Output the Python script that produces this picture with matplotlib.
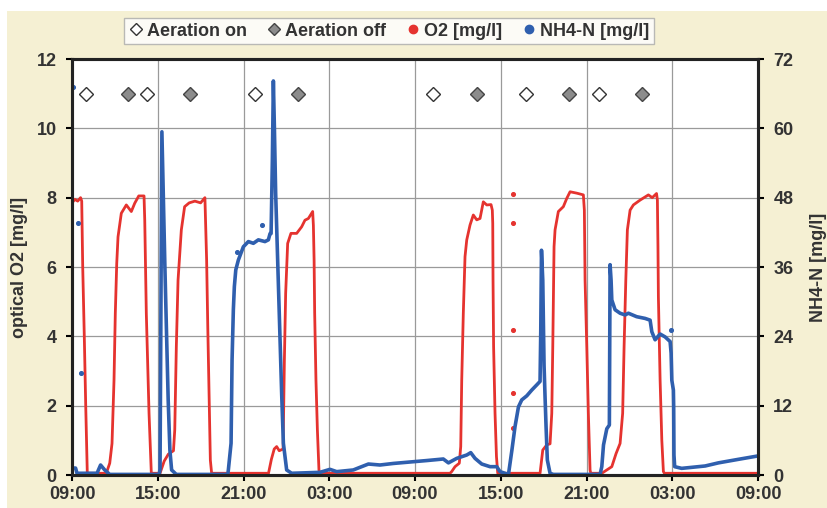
"""
Dissolved oxygen and ammonium readings over two days of intermittent
aeration, with the aeration switch times marked along the top.
"""
import matplotlib
matplotlib.use("Agg")

import matplotlib.pyplot as plt
from matplotlib.lines import Line2D
from matplotlib.patches import Rectangle

plt.rcParams['font.family'] = ['Liberation Sans', 'DejaVu Sans']
plt.rcParams['font.weight'] = 'bold'
plt.rcParams['axes.labelweight'] = 'bold'

# time axis: hours after 09:00 of the first day
HOUR_TICKS = [0, 6, 12, 18, 24, 30, 36, 42, 48]
HOUR_LABELS = ['09:00', '15:00', '21:00', '03:00', '09:00',
               '15:00', '21:00', '03:00', '09:00']

# aeration switch times (hours), drawn at O2 = 11
AERATION_ON = [0.98, 5.23, 12.83, 25.28, 31.77, 36.86]
AERATION_OFF = [3.92, 8.24, 15.84, 28.32, 34.80, 39.87]
MARKER_LEVEL = 11

# optical O2 [mg/l]
O2_TIME = [
    0.0, 0.2, 0.4, 0.6, 0.68, 0.75, 0.86, 0.96, 1.07, 2.40,
    2.64, 2.80, 2.94, 3.03, 3.13, 3.22, 3.45, 3.80, 4.15, 4.39,
    4.67, 5.04, 5.09, 5.20, 5.39, 5.55, 6.16, 6.45, 6.74, 7.10,
    7.19, 7.30, 7.42, 7.65, 7.88, 8.20, 8.60, 9.00, 9.30, 9.42,
    9.50, 9.59, 9.68, 9.77, 13.75, 13.95, 14.15, 14.32, 14.50, 14.77,
    14.86, 14.95, 15.09, 15.32, 15.72, 16.07, 16.30, 16.54, 16.84, 16.89,
    16.94, 16.98, 17.07, 17.17, 17.28, 17.35, 26.45, 26.57, 26.80, 27.10,
    27.20, 27.27, 27.38, 27.50, 27.62, 27.85, 28.08, 28.32, 28.55, 28.78,
    29.02, 29.32, 29.41, 29.44, 29.46, 29.50, 29.60, 29.70, 29.79, 32.75,
    32.94, 33.22, 33.45, 33.57, 33.64, 33.73, 33.80, 34.03, 34.38, 34.62,
    34.85, 35.32, 35.78, 35.85, 35.90, 36.02, 36.13, 36.25, 36.30, 37.07,
    37.77, 38.07, 38.35, 38.53, 38.63, 38.75, 38.86, 39.05, 39.28, 39.75,
    40.33, 40.60, 40.90, 40.96, 41.00, 41.03, 41.15, 41.27, 41.38, 41.45,
    48.0]
O2_VALUE = [
    7.85, 7.95, 7.90, 8.00, 7.90, 6.00, 4.00, 2.00, 0.05, 0.05,
    0.34, 0.91, 2.74, 4.66, 6.10, 6.87, 7.55, 7.79, 7.60, 7.84,
    8.05, 8.05, 7.35, 4.66, 1.78, 0.05, 0.05, 0.40, 0.60, 0.70,
    1.30, 3.70, 5.62, 7.07, 7.74, 7.85, 7.90, 7.85, 8.00, 6.20,
    4.28, 2.36, 0.43, 0.05, 0.05, 0.45, 0.75, 0.82, 0.70, 0.75,
    3.30, 5.24, 6.68, 6.97, 6.97, 7.16, 7.35, 7.40, 7.60, 7.20,
    6.20, 4.66, 2.74, 1.30, 0.14, 0.05, 0.05, 0.10, 0.24, 0.34,
    0.82, 2.74, 4.66, 6.30, 6.78, 7.21, 7.50, 7.36, 7.40, 7.88,
    7.79, 7.80, 7.64, 7.26, 5.62, 3.70, 1.78, 0.53, 0.05, 0.05,
    0.72, 0.87, 0.90, 1.78, 3.70, 6.59, 7.07, 7.60, 7.74, 7.98,
    8.17, 8.13, 8.08, 7.64, 5.62, 3.70, 1.78, 0.14, 0.05, 0.05,
    0.24, 0.62, 0.91, 1.78, 3.70, 5.62, 7.07, 7.64, 7.79, 7.93,
    8.08, 8.00, 8.12, 7.93, 6.59, 5.14, 2.74, 1.00, 0.10, 0.05,
    0.05]

# NH4-N [mg/l]
NH4_TIME = [
    0.0, 0.25, 0.35, 1.75, 2.00, 2.29, 2.64, 6.10, 6.16, 6.29,
    6.50, 6.62, 6.73, 6.85, 6.97, 7.30, 10.90, 10.94, 11.13, 11.20,
    11.29, 11.36, 11.46, 11.64, 11.99, 12.34, 12.69, 13.04, 13.50, 13.74,
    13.86, 13.93, 14.02, 14.09, 14.16, 14.25, 14.39, 14.53, 14.67, 14.79,
    15.02, 15.37, 17.35, 18.05, 18.52, 19.68, 20.15, 20.74, 21.55, 22.49,
    23.65, 24.82, 25.98, 26.34, 26.92, 27.62, 27.90, 28.20, 28.67, 29.25,
    29.72, 29.95, 30.54, 30.78, 31.00, 31.24, 31.47, 31.82, 32.17, 32.52,
    32.75, 32.80, 32.85, 32.94, 33.03, 33.10, 33.17, 33.26, 33.45, 33.68,
    36.95, 37.07, 37.19, 37.42, 37.60, 37.65, 37.72, 37.77, 38.00, 38.35,
    38.70, 38.93, 39.51, 40.10, 40.45, 40.57, 40.80, 41.15, 41.50, 41.85,
    41.92, 41.97, 42.08, 42.10, 42.12, 42.17, 42.66, 44.30, 45.23, 46.60,
    48.0]
NH4_VALUE = [
    1.2, 1.2, 0.3, 0.3, 1.73, 0.87, 0.1, 0.1, 1.0, 59.4,
    36.0, 24.0, 13.0, 4.3, 0.87, 0.1, 0.1, 0.87, 5.5, 19.9,
    28.6, 32.6, 35.5, 37.2, 39.5, 40.4, 40.1, 40.7, 40.4, 40.7,
    41.8, 41.8, 54.5, 68.2, 60.3, 48.8, 37.2, 25.7, 14.1, 5.5,
    0.87, 0.3, 0.46, 0.98, 0.58, 0.87, 1.33, 1.9, 1.73, 2.0,
    2.25, 2.5, 2.77, 2.1, 2.88, 3.46, 3.87, 2.88, 1.9, 1.44,
    1.44, 0.58, 0.1, 4.3, 8.4, 11.8, 13.0, 13.7, 14.7, 15.6,
    16.2, 25.0, 38.9, 33.7, 19.0, 13.5, 8.4, 2.6, 0.3, 0.1,
    0.1, 1.44, 5.2, 8.0, 8.65, 36.4, 33.7, 30.3, 28.6, 28.0,
    27.7, 28.0, 27.4, 27.1, 26.8, 24.8, 23.4, 24.4, 23.9, 23.1,
    21.1, 16.4, 14.7, 11.8, 3.46, 1.44, 1.15, 1.56, 2.1, 2.7,
    3.3]

# isolated readings away from the main traces
O2_STRAY_TIME = [30.84, 30.84, 30.84, 30.84, 30.84]
O2_STRAY_VALUE = [8.12, 7.26, 4.18, 2.36, 1.35]
NH4_STRAY_TIME = [0.10, 0.42, 0.61, 11.52, 13.27, 41.92]
NH4_STRAY_VALUE = [67.2, 43.6, 17.6, 38.6, 43.3, 25.1]

RED = '#E5332F'
BLUE = '#2F5FAE'
BEIGE = '#F5F0D3'
TEXT = '#333333'
FONT_SIZE = 13


def draw_graph():
  """Draws the O2 / NH4-N chart and saves it as out.png."""
  figure = plt.figure(figsize=(8.27, 5.08), dpi=100, facecolor='white')
  figure.patches.append(Rectangle((7 / 827, 0), 1, 497 / 508,
                                  transform=figure.transFigure,
                                  facecolor=BEIGE, edgecolor='none',
                                  zorder=-10))

  axs = figure.add_axes([72 / 827, 33 / 508, 686 / 827, 416 / 508])
  axs.set_facecolor('white')
  axs_nh4 = axs.twinx()

  axs.plot(O2_TIME, O2_VALUE, color=RED, linewidth=2.0,
           solid_joinstyle='round', zorder=3)
  axs.scatter(O2_STRAY_TIME, O2_STRAY_VALUE, s=7, color=RED, zorder=3)
  axs.plot(AERATION_ON, [MARKER_LEVEL] * len(AERATION_ON), linestyle='none',
           marker='D', markersize=7, markerfacecolor='white',
           markeredgecolor='#333333', markeredgewidth=1.0, zorder=4)
  axs.plot(AERATION_OFF, [MARKER_LEVEL] * len(AERATION_OFF), linestyle='none',
           marker='D', markersize=7, markerfacecolor='#8C8C8C',
           markeredgecolor='#444444', markeredgewidth=1.0, zorder=4)

  axs_nh4.plot(NH4_TIME, NH4_VALUE, color=BLUE, linewidth=2.6,
               solid_joinstyle='round')
  axs_nh4.scatter(NH4_STRAY_TIME, NH4_STRAY_VALUE, s=7, color=BLUE)

  axs.set_xlim(0, 48)
  axs.set_ylim(0, 12)
  axs_nh4.set_ylim(0, 72)
  axs.set_xticks(HOUR_TICKS)
  axs.set_xticklabels(HOUR_LABELS)
  axs.set_yticks(range(0, 13, 2))
  axs_nh4.set_yticks(range(0, 73, 12))

  axs.grid(True, color='#9A9A9A', linewidth=0.9)
  axs.set_axisbelow(True)

  axs.tick_params(axis='both', labelsize=FONT_SIZE, colors='black',
                  direction='out', length=4, width=1.5)
  axs.tick_params(axis='x', pad=4)
  axs.tick_params(axis='y', pad=7)
  axs_nh4.tick_params(axis='y', labelsize=FONT_SIZE, direction='out',
                      length=4, width=1.5, pad=7)
  for label in axs.get_xticklabels() + axs.get_yticklabels() + \
      axs_nh4.get_yticklabels():
    label.set_color(TEXT)

  for axis in (axs, axs_nh4):
    for spine in axis.spines.values():
      spine.set_linewidth(2.2)
      spine.set_color('#222222')

  axs.set_ylabel('optical O2 [mg/l]', fontsize=FONT_SIZE, color=TEXT,
                 labelpad=6)
  axs_nh4.set_ylabel('NH4-N [mg/l]', fontsize=FONT_SIZE, color=TEXT,
                     labelpad=12)

  handles = [
      Line2D([], [], linestyle='none', marker='D', markersize=6,
             markerfacecolor='white', markeredgecolor='#333333'),
      Line2D([], [], linestyle='none', marker='D', markersize=6,
             markerfacecolor='#8C8C8C', markeredgecolor='#444444'),
      Line2D([], [], linestyle='none', marker='o', markersize=6, color=RED),
      Line2D([], [], linestyle='none', marker='o', markersize=6, color=BLUE),
  ]
  labels = ['Aeration on', 'Aeration off', 'O2 [mg/l]', 'NH4-N [mg/l]']
  legend = figure.legend(handles, labels, loc='center',
                         bbox_to_anchor=(389 / 827, 1 - 31 / 508), ncol=4,
                         fontsize=FONT_SIZE, frameon=True, fancybox=False,
                         handlelength=0.8, handletextpad=0.2,
                         columnspacing=1.1, borderpad=0.25,
                         edgecolor='#AAAAAA')
  legend.get_frame().set_linewidth(1.0)
  for text in legend.get_texts():
    text.set_color(TEXT)

  figure.savefig('out.png', dpi=100, facecolor='white')
  plt.close(figure)


if __name__ == '__main__':
  draw_graph()
